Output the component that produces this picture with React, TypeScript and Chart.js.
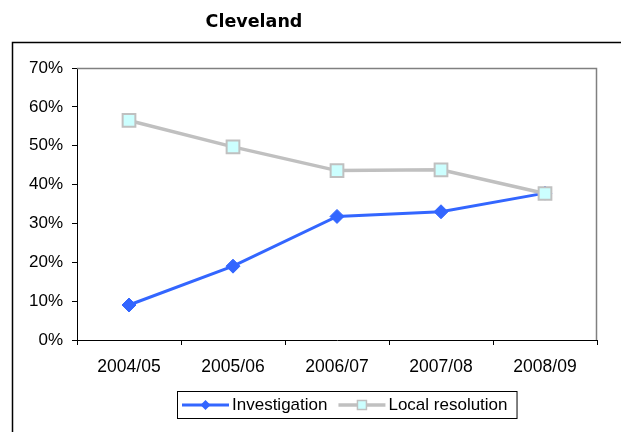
import React, { useEffect, useRef } from "react";
import { Chart, registerables } from "chart.js";

Chart.register(...registerables);

const chartTitle = "Cleveland";
const categories = ["2004/05", "2005/06", "2006/07", "2007/08", "2008/09"];
const investigation = [9.0, 19.0, 31.8, 33.0, 37.8];
const localResolution = [56.5, 49.7, 43.6, 43.8, 37.7];
const seriesLabels = ["Investigation", "Local resolution"];
const yMin = 0;
const yMax = 70;
const yStep = 10;

const TICK_FONT = { family: "'Liberation Sans', Arial, sans-serif", size: 17 };

const framePlugin = {
  id: "framePlugin",
  beforeDatasetsDraw(chart: any) {
    const { ctx, chartArea } = chart;
    ctx.save();
    ctx.strokeStyle = "#808080";
    ctx.lineWidth = 1.5;
    ctx.beginPath();
    ctx.moveTo(chartArea.left, chartArea.top + 0.5);
    ctx.lineTo(chartArea.right - 0.5, chartArea.top + 0.5);
    ctx.lineTo(chartArea.right - 0.5, chartArea.bottom);
    ctx.stroke();
    ctx.restore();
  },
  afterDraw(chart: any) {
    const { ctx } = chart;
    ctx.save();
    // outer border
    ctx.strokeStyle = "#000";
    ctx.lineWidth = 1.5;
    ctx.strokeRect(12.5, 42.5, 800, 600);
    // title
    ctx.fillStyle = "#000";
    ctx.font = "bold 17.5px 'DejaVu Sans', Verdana, sans-serif";
    ctx.textAlign = "center";
    ctx.textBaseline = "middle";
    ctx.fillText(chartTitle, 254, 22);

    // legend
    const font = "17px 'Liberation Sans', Arial, sans-serif";
    ctx.font = font;
    const lineLen = 47;
    const gapAfterLine = 3;
    const itemGap = 11;
    const padL = 5;
    const padR = 9;
    const datasets = chart.data.datasets;
    const order = [0, 1];
    const widths = order.map((i) => ctx.measureText(datasets[i].label).width);
    let total = padL + padR + itemGap * (order.length - 1);
    widths.forEach((w) => (total += lineLen + gapAfterLine + w));
    const cx = 347;
    const boxTop = 391;
    const boxH = 27;
    const left = Math.round(cx - total / 2);
    ctx.fillStyle = "#fff";
    ctx.fillRect(left, boxTop, total, boxH);
    ctx.strokeStyle = "#000";
    ctx.lineWidth = 1;
    ctx.strokeRect(left + 0.5, boxTop + 0.5, total, boxH);
    const midY = boxTop + boxH / 2 + 0.5;
    let x = left + padL;
    order.forEach((i, k) => {
      const ds = datasets[i];
      ctx.strokeStyle = ds.borderColor;
      ctx.lineWidth = ds.borderWidth;
      ctx.beginPath();
      ctx.moveTo(x, midY);
      ctx.lineTo(x + lineLen, midY);
      ctx.stroke();
      const mx = x + lineLen / 2;
      if (ds.pointStyle === "rectRot") {
        const r = 5;
        ctx.fillStyle = ds.pointBackgroundColor;
        ctx.beginPath();
        ctx.moveTo(mx, midY - r);
        ctx.lineTo(mx + r, midY);
        ctx.lineTo(mx, midY + r);
        ctx.lineTo(mx - r, midY);
        ctx.closePath();
        ctx.fill();
      } else {
        const s = 4.5;
        ctx.fillStyle = ds.pointBackgroundColor;
        ctx.fillRect(mx - s, midY - s, 2 * s, 2 * s);
        ctx.strokeStyle = ds.pointBorderColor;
        ctx.lineWidth = 1.5;
        ctx.strokeRect(mx - s, midY - s, 2 * s, 2 * s);
      }
      x += lineLen + gapAfterLine;
      ctx.fillStyle = "#000";
      ctx.font = font;
      ctx.textAlign = "left";
      ctx.textBaseline = "middle";
      ctx.fillText(ds.label, x, midY);
      x += widths[k] + itemGap;
    });
    ctx.restore();
  },
};

export default function App() {
  const canvasRef = useRef<HTMLCanvasElement | null>(null);

  useEffect(() => {
    const canvas = canvasRef.current;
    if (!canvas) return;
    const chart = new Chart(canvas, {
      type: "line",
      data: {
        labels: categories,
        datasets: [
          {
            label: seriesLabels[0],
            data: investigation,
            borderColor: "#3366FF",
            backgroundColor: "#3366FF",
            borderWidth: 3,
            pointStyle: "rectRot",
            pointRadius: 7,
            pointBackgroundColor: "#3366FF",
            pointBorderColor: "#3366FF",
            pointBorderWidth: 1,
            tension: 0,
            order: 1,
          },
          {
            label: seriesLabels[1],
            data: localResolution,
            borderColor: "#C0C0C0",
            backgroundColor: "#CCFFFF",
            borderWidth: 3.5,
            pointStyle: "rect",
            pointRadius: 9,
            pointBackgroundColor: "#CCFFFF",
            pointBorderColor: "#C0C0C0",
            pointBorderWidth: 2,
            tension: 0,
            order: 0,
          },
        ],
      },
      options: {
        animation: false,
        responsive: false,
        layout: { padding: { top: 68, left: 0, right: 24, bottom: 52 } },
        plugins: {
          legend: { display: false },
          title: { display: false },
          tooltip: { enabled: false },
        },
        scales: {
          x: {
            offset: true,
            grid: {
              offset: true,
              drawOnChartArea: false,
              drawTicks: true,
              tickLength: 5,
              color: "#000",
            },
            border: { display: true, color: "#000", width: 1 },
            ticks: { font: { ...TICK_FONT, size: 17.5 }, color: "#000", padding: 12, maxRotation: 0 },
            afterFit: (s: any) => {
              s.height = 40;
            },
          },
          y: {
            min: yMin,
            max: yMax,
            ticks: {
              stepSize: yStep,
              font: TICK_FONT,
              color: "#000",
              padding: 9,
              callback: (v: any) => `${v}%`,
            },
            grid: {
              drawOnChartArea: false,
              drawTicks: true,
              tickLength: 5,
              color: "#000",
            },
            border: { display: true, color: "#000", width: 1 },
            afterFit: (s: any) => {
              s.width = 77;
            },
          },
        },
      },
      plugins: [framePlugin],
    });
    return () => chart.destroy();
  }, []);

  return (
    <div style={{ position: "fixed", left: 0, top: 0, width: 621, height: 432, background: "#fff" }}>
      <canvas ref={canvasRef} width={621} height={432} />
    </div>
  );
}
